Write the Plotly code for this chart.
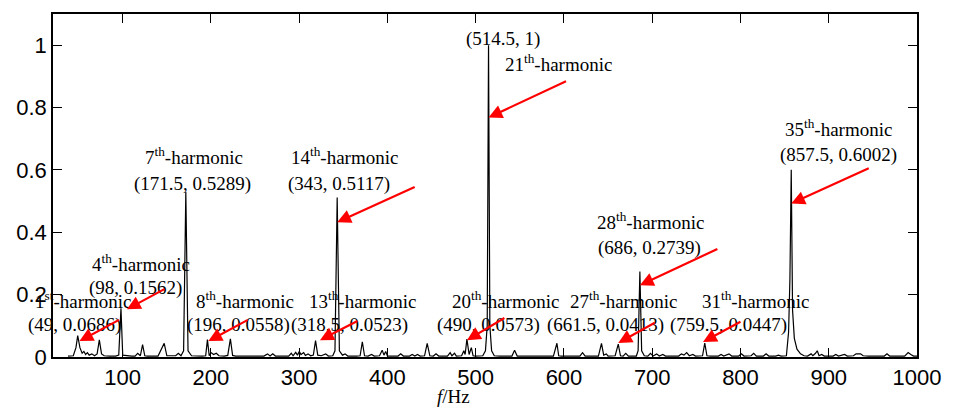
import plotly.graph_objects as go

# Amplitude spectrum (normalised), frequency in Hz
freq = [38, 44, 47, 49, 51.5, 54, 56, 58, 60, 62, 65, 68, 71, 73.5, 76, 79, 85,
        92, 95.5, 98, 100, 104, 110, 114, 117, 120, 122.5, 125, 128, 140, 147, 150,
        160, 163, 166, 169, 171.5, 174, 178, 190, 194, 196, 198, 200, 203, 206, 209,
        215, 219, 222, 224.5, 228, 260, 264, 267, 270, 273, 288, 291, 293, 296, 298,
        300, 302, 305, 307, 310, 313, 316, 318.5, 321, 325, 330, 333, 338, 340.5, 343,
        345.5, 349, 352, 355, 365, 369, 371.5, 374, 378, 382, 385, 391, 394, 396, 398,
        400, 412, 415, 418, 425, 428, 431, 434, 437, 442, 445, 448, 452, 455, 458, 468,
        471, 473, 476, 478, 484, 486.5, 488, 490, 492.5, 495, 497, 500, 508, 511, 513,
        514.5, 516, 518, 521, 527, 541, 544, 547, 588, 592, 594, 597, 618, 621, 624,
        639, 642.5, 645, 648, 650, 658, 661.5, 664, 667, 670, 673, 682, 684, 686, 688,
        691, 695, 698, 701, 705, 708, 712, 715, 730, 733, 736, 739, 742, 746, 749, 757,
        759.5, 762, 766, 775, 778, 781, 787, 790, 798, 801, 804, 812, 815, 818, 826,
        829, 832, 840, 843, 846, 852, 854.5, 856, 857.5, 859, 861, 864, 868, 872, 876,
        880, 882, 885, 887, 889, 892, 895, 905, 908, 911, 918, 921, 928, 931, 936, 939,
        945, 963, 966, 969, 986, 990, 993, 996, 1000]
amp = [0.003, 0.004, 0.03, 0.0686, 0.03, 0.012, 0.018, 0.008, 0.014, 0.006, 0.01, 0.004,
       0.01, 0.055, 0.01, 0.004, 0.003,
       0.003, 0.006, 0.1562, 0.006, 0.004, 0.003, 0.003, 0.012, 0.004, 0.04, 0.004, 0.003,
       0.003, 0.044, 0.004,
       0.004, 0.012, 0.004, 0.02, 0.5289, 0.02, 0.004, 0.003, 0.004, 0.0558, 0.004, 0.014,
       0.008, 0.012, 0.004,
       0.003, 0.005, 0.058, 0.005, 0.003, 0.003, 0.01, 0.003, 0.01, 0.003, 0.003, 0.012,
       0.004, 0.015, 0.006,
       0.018, 0.008, 0.014, 0.005, 0.01, 0.004, 0.006, 0.0523, 0.006, 0.004, 0.01, 0.003,
       0.004, 0.02, 0.5117,
       0.02, 0.006, 0.01, 0.003, 0.003, 0.004, 0.049, 0.004, 0.003, 0.008, 0.003, 0.004,
       0.022, 0.006, 0.018,
       0.003, 0.003, 0.01, 0.003, 0.003, 0.008, 0.003, 0.008, 0.003, 0.004, 0.044, 0.004,
       0.003, 0.01, 0.003, 0.003,
       0.014, 0.004, 0.012, 0.003, 0.004, 0.02, 0.008, 0.0573, 0.008, 0.03, 0.004, 0.003,
       0.004, 0.02, 0.1,
       1.0, 0.1, 0.02, 0.004, 0.003, 0.003, 0.022, 0.003, 0.003, 0.044, 0.004, 0.003,
       0.003, 0.014, 0.003,
       0.003, 0.044, 0.006, 0.01, 0.003, 0.004, 0.0413, 0.004, 0.003, 0.012, 0.003, 0.003,
       0.02, 0.2739, 0.02,
       0.004, 0.003, 0.012, 0.003, 0.01, 0.003, 0.008, 0.003, 0.003, 0.01, 0.006, 0.014,
       0.004, 0.008, 0.003, 0.004,
       0.0447, 0.004, 0.003, 0.003, 0.008, 0.003, 0.01, 0.003, 0.003, 0.01, 0.003, 0.004,
       0.012, 0.003, 0.003,
       0.01, 0.003, 0.003, 0.006, 0.003, 0.004, 0.08, 0.25, 0.6002, 0.15, 0.06, 0.025,
       0.01, 0.004, 0.003,
       0.01, 0.004, 0.012, 0.02, 0.004, 0.008, 0.003, 0.003, 0.008, 0.003, 0.008, 0.003,
       0.004, 0.01, 0.01, 0.004,
       0.003, 0.003, 0.01, 0.003, 0.003, 0.014, 0.008, 0.003, 0.003]

# Marked harmonics: order name, frequency, amplitude
harm_names = ["1<sup>st</sup>", "4<sup>th</sup>", "7<sup>th</sup>", "8<sup>th</sup>",
              "13<sup>th</sup>", "14<sup>th</sup>", "20<sup>th</sup>", "21<sup>th</sup>",
              "27<sup>th</sup>", "28<sup>th</sup>", "31<sup>th</sup>", "35<sup>th</sup>"]
harm_freq = [49, 98, 171.5, 196, 318.5, 343, 490, 514.5, 661.5, 686, 759.5, 857.5]
harm_amp = ["0.0686", "0.1562", "0.5289", "0.0558", "0.0523", "0.5117", "0.0573", "1",
            "0.0413", "0.2739", "0.0447", "0.6002"]

y_ticks = [0, 0.2, 0.4, 0.6, 0.8, 1.0]
y_tick_text = ["0", "0.2", "0.4", "0.6", "0.8", "1"]
x_ticks = [100, 200, 300, 400, 500, 600, 700, 800, 900, 1000]

# label placement per harmonic: (name x, name y, value x, value y)
label_pos = [
    (54.7, 0.182, 45.7, 0.102),
    (121.0, 0.301, 114.3, 0.221),
    (180.6, 0.646, 179.5, 0.556),
    (239.0, 0.182, 231.2, 0.102),
    (371.7, 0.182, 357.1, 0.102),
    (351.4, 0.646, 344.7, 0.556),
    (533.5, 0.182, 514.4, 0.102),
    (594.2, 0.943, 531.3, 1.020),
    (667.3, 0.182, 647.1, 0.102),
    (697.6, 0.435, 696.5, 0.349),
    (816.8, 0.182, 786.4, 0.102),
    (911.2, 0.736, 911.2, 0.649),
]
# arrow tip (x offset from peak in Hz, y) and tail offset in px
arrow_pos = [
    (2.0, 0.051, 41, -22),
    (6.7, 0.153, 39, -21),
    None,
    (1.0, 0.051, 41, -22),
    (5.0, 0.054, 39, -20),
    (0.0, 0.432, 79, -36),
    (0.0, 0.054, 39, -23),
    (0.0, 0.768, 79, -37),
    (0.0, 0.045, 38, -21),
    (0.0, 0.230, 79, -37),
    (-2.0, 0.048, 39, -21),
    (0.0, 0.492, 79, -36),
]

serif = "Times New Roman, Liberation Serif, serif"
sans = "Arial, Liberation Sans, sans-serif"

fig = go.Figure()
fig.add_trace(go.Scatter(x=freq, y=amp, mode="lines",
                         line=dict(color="black", width=1.2),
                         showlegend=False, hoverinfo="x+y"))

annotations = []
for name, f, a, lp, ap in zip(harm_names, harm_freq, harm_amp, label_pos, arrow_pos):
    nx, ny, vx, vy = lp
    annotations.append(dict(x=nx, y=ny, xref="x", yref="y", text=name + "-harmonic",
                            showarrow=False, font=dict(family=serif, size=19, color="black")))
    annotations.append(dict(x=vx, y=vy, xref="x", yref="y", text=f"({f:g}, {a})",
                            showarrow=False, font=dict(family=serif, size=19, color="black")))
    if ap is not None:
        dx, ty, axo, ayo = ap
        annotations.append(dict(x=f + dx, y=ty, xref="x", yref="y", text="",
                                showarrow=True, arrowhead=2, arrowsize=1.25,
                                arrowwidth=2.2, arrowcolor="#ff0000",
                                ax=axo, ay=ayo, standoff=0))

# axis title sits below the plot box, its pixel row converted to paper units
annotations.append(dict(x=475, y=(357 - 397) / 344.0, xref="x", yref="paper",
                        yanchor="middle", text="<i>f</i>/Hz", showarrow=False,
                        font=dict(family=serif, size=19, color="black")))

fig.update_layout(
    width=953, height=410,
    margin=dict(l=53, r=29, t=13, b=53),
    paper_bgcolor="white", plot_bgcolor="white",
    annotations=annotations,
    xaxis=dict(range=[21, 1000], tickvals=x_ticks, ticks="inside", ticklen=9,
               tickwidth=1, tickcolor="black", showline=True, linecolor="black",
               linewidth=1.5, mirror="ticks", showgrid=False, zeroline=False,
               tickfont=dict(family=sans, size=22, color="black")),
    yaxis=dict(range=[0, 1.1], tickvals=y_ticks, ticktext=y_tick_text, ticks="inside",
               ticklen=9, tickwidth=1, tickcolor="black", showline=True,
               linecolor="black", linewidth=1.5, mirror="ticks", showgrid=False,
               zeroline=False, tickfont=dict(family=sans, size=22, color="black")),
)

fig.write_html("out.html")
